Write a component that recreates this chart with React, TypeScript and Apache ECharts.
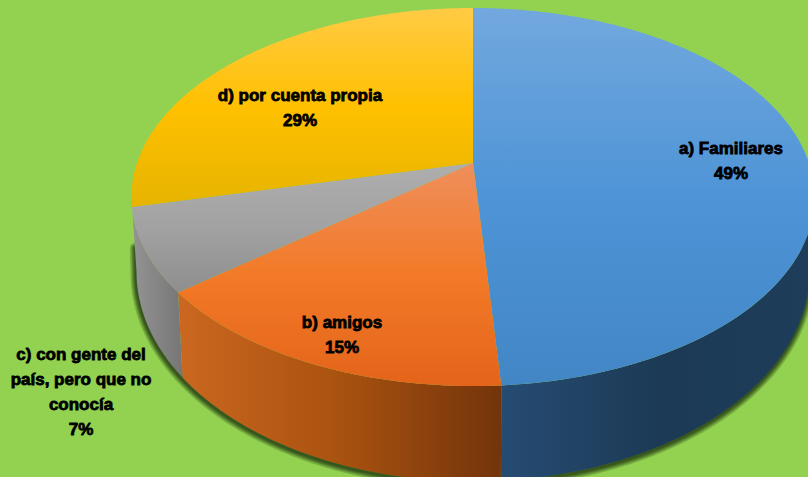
import React, { useEffect, useRef } from "react";
import * as echarts from "echarts";

const categories = ["a) Familiares", "b) amigos", "c) con gente del\npaís, pero que no\nconocía", "d) por cuenta propia"];
const values = [48.9, 15.3, 7.1, 28.7];

const topStops = [
  ["#72A8DE", "#4E94D6", "#4286C6"],
  ["#EF8F5C", "#F27A28", "#E4641A"],
  ["#AEAEAE", "#A2A2A2", "#8E8E8E"],
  ["#FFCB45", "#FFC000", "#E6B400"],
];
const sideStops = [
  ["#264C73", "#1C3A55", "#1E3D5A"],
  ["#CB6720", "#A9520F", "#73340B"],
  ["#949494", "#858585", "#767676"],
];
const labelAnchors = [
  [731, 161],
  [342, 335],
  [81, 392],
  [300, 107.5],
];
const shadowWidths = [11, 8, 6, 4, 2];

const W = 808;
const H = 477;
const K = -0.18;
const CX = 473;
const TOP = { a: 336, y: 163, b: 182.9 };
const BOTTOM = { a: 331, y: 233.8, b: 203 };
const total = values.reduce((s, v) => s + v, 0);

function project(deg: number, r: { a: number; y: number; b: number }) {
  const t = (deg * Math.PI) / 180;
  const u = Math.sin(t);
  const v = -Math.cos(t);
  const w = 1 + K * v;
  return [CX + (r.a * u) / w, r.y + (r.b * v) / w];
}
function arc(from: number, to: number, r: { a: number; y: number; b: number }) {
  const n = Math.max(2, Math.ceil(Math.abs(to - from)));
  const pts: number[][] = [];
  for (let i = 0; i <= n; i++) pts.push(project(from + ((to - from) * i) / n, r));
  return pts;
}
function bounds(i: number) {
  const before = values.slice(0, i).reduce((s, v) => s + v, 0);
  return [(before / total) * 360, ((before + values[i]) / total) * 360];
}
function gradient(stops: string[], horizontal: boolean) {
  return new echarts.graphic.LinearGradient(0, 0, horizontal ? 1 : 0, horizontal ? 0 : 1, [
    { offset: 0, color: stops[0] },
    { offset: 0.5, color: stops[1] },
    { offset: 1, color: stops[2] },
  ]);
}

const SIDE_FROM = 100.37;
const SIDE_TO = 259.63;

export default function App() {
  const ref = useRef<HTMLDivElement>(null);
  useEffect(() => {
    document.body.style.margin = "0";
    const chart = echarts.init(ref.current!, undefined, { renderer: "svg" });
    const seriesData = values.map((v, i) => ({ name: categories[i].replace(/\n/g, " "), value: v }));
    chart.setOption({
      animation: false,
      backgroundColor: "#92D250",
      series: [
        {
          type: "custom",
          coordinateSystem: "none",
          silent: true,
          z: 1,
          data: [0],
          renderItem: () => {
            const rim = arc(SIDE_FROM - 12, SIDE_TO, BOTTOM);
            const last = rim[rim.length - 1];
            const top = project(SIDE_TO, TOP);
            const points = [...rim, [(last[0] * 2 + top[0]) / 3 + 1, (last[1] * 2 + top[1]) / 3]];
            return {
              type: "group",
              x: -0.5,
              y: 1.5,
              children: shadowWidths.map((lw) => ({
                type: "polyline",
                shape: { points },
                style: { fill: "none", stroke: "#12240A", lineWidth: lw, opacity: 0.22, lineJoin: "round", lineCap: "round" },
              })),
            };
          },
        },
        {
          type: "custom",
          coordinateSystem: "none",
          z: 2,
          data: seriesData.slice(0, 3),
          renderItem: (params: any) => {
            const i = params.dataIndex;
            const [s, e] = bounds(i);
            const from = Math.max(s, SIDE_FROM);
            const to = i === 2 ? SIDE_TO : e;
            return {
              type: "polygon",
              shape: { points: [...arc(from, to, TOP), ...arc(to, from, BOTTOM)] },
              style: { fill: gradient(sideStops[i], true) },
            };
          },
        },
        {
          type: "custom",
          coordinateSystem: "none",
          z: 3,
          data: seriesData,
          renderItem: (params: any) => {
            const i = params.dataIndex;
            const [s, e] = bounds(i);
            return {
              type: "polygon",
              shape: { points: [[CX, TOP.y], ...arc(s, e, TOP)] },
              style: { fill: gradient(topStops[i], false) },
            };
          },
        },
        {
          type: "custom",
          coordinateSystem: "none",
          z: 4,
          data: seriesData,
          renderItem: (params: any, api: any) => {
            const i = params.dataIndex;
            return {
              type: "text",
              x: labelAnchors[i][0],
              y: labelAnchors[i][1],
              style: {
                text: `${categories[i]}\n${Math.round(api.value(0))}%`,
                fill: "#000",
                stroke: "#000",
                lineWidth: 0.8,
                font: 'bold 17px "Liberation Sans", Arial, sans-serif',
                lineHeight: 25,
                align: "center",
                verticalAlign: "middle",
              },
            };
          },
        },
      ],
    });
    return () => chart.dispose();
  }, []);
  return <div ref={ref} style={{ width: W, height: H }} />;
}
